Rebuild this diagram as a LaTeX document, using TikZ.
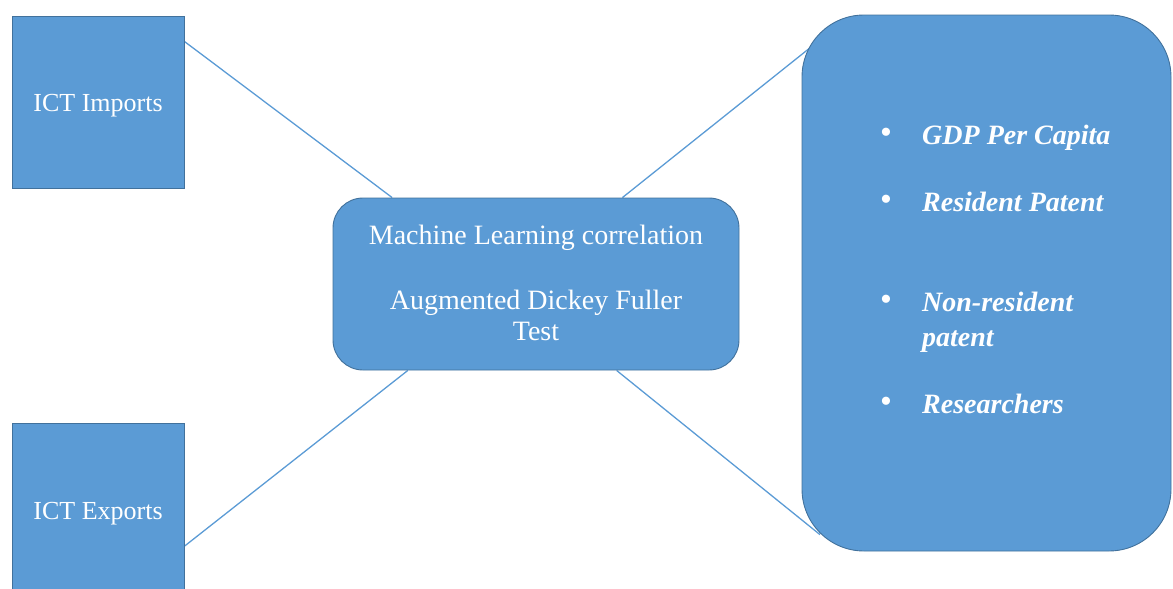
\documentclass[tikz,border=0pt]{standalone}
\usepackage{fontspec}
\setmainfont{Liberation Serif}
\usetikzlibrary{backgrounds,calc}
\definecolor{boxblue}{HTML}{5B9BD5}
\definecolor{boxedge}{HTML}{41719C}
\begin{document}
\begin{tikzpicture}[x=1pt,y=-1pt,
  block/.style={draw=boxedge, line width=0.9pt, fill=boxblue, text=white, align=center,
                inner sep=0pt},
  link/.style={draw=boxblue, line width=1.3pt},
  label/.style={text=white, inner sep=0pt, font=\fontsize{26}{31}\selectfont},
  item/.style={anchor=base west, text=white, font=\fontsize{28}{33}\selectfont\bfseries\itshape, inner sep=0pt},
  dot/.style={anchor=base, text=white, font=\fontsize{34}{40}\selectfont, inner sep=0pt}]
  \useasboundingbox (0,0) rectangle (1173,589);

  % input indicators
  \node[block, minimum width=172pt, minimum height=172pt] (imp) at (98,102) {};
  \node[label] (impl) at (98,106) {ICT Imports};
  \node[block, minimum width=172pt, minimum height=180pt] (exp) at (98,513) {};
  \node[label] (expl) at (98,514) {ICT Exports};

  % method
  \node[block, rounded corners=30pt, minimum width=406pt, minimum height=172pt] (ml) at (536,284) {};
  \node[text=white, align=center, inner sep=0pt, font=\fontsize{28}{31}\selectfont] (mlt) at (536,283)
        {Machine Learning correlation\\[34pt]Augmented Dickey Fuller\\Test};

  % outcome indicators
  \node[block, rounded corners=62pt, minimum width=369pt, minimum height=536pt] (out) at (986.5,283) {};
  \node[item] (i1) at (922,144) {GDP Per Capita};
  \node[item] (i2) at (922,211) {Resident Patent};
  \node[item] (i3) at (922,311) {Non-resident};
  \node[item] (i3b) at (922,346) {patent};
  \node[item] (i4) at (922,413) {Researchers};
  \node[dot] (b1) at (886,143) {•};
  \node[dot] (b2) at (886,210) {•};
  \node[dot] (b3) at (886,310) {•};
  \node[dot] (b4) at (886,412) {•};

  % connectors (the far ends run on under the rounded box)
  \begin{scope}[on background layer]
    \draw[link] (imp.35) -- (ml.149.5);
    \draw[link] (exp.-21) -- (ml.-146);
    \draw[link] (ml.45) -- ($(ml.45)!1.06!(out.129.2)$);
    \draw[link] (ml.-47.4) -- ($(ml.-47.4)!1.1!(out.-128)$);
  \end{scope}
\end{tikzpicture}
\end{document}
